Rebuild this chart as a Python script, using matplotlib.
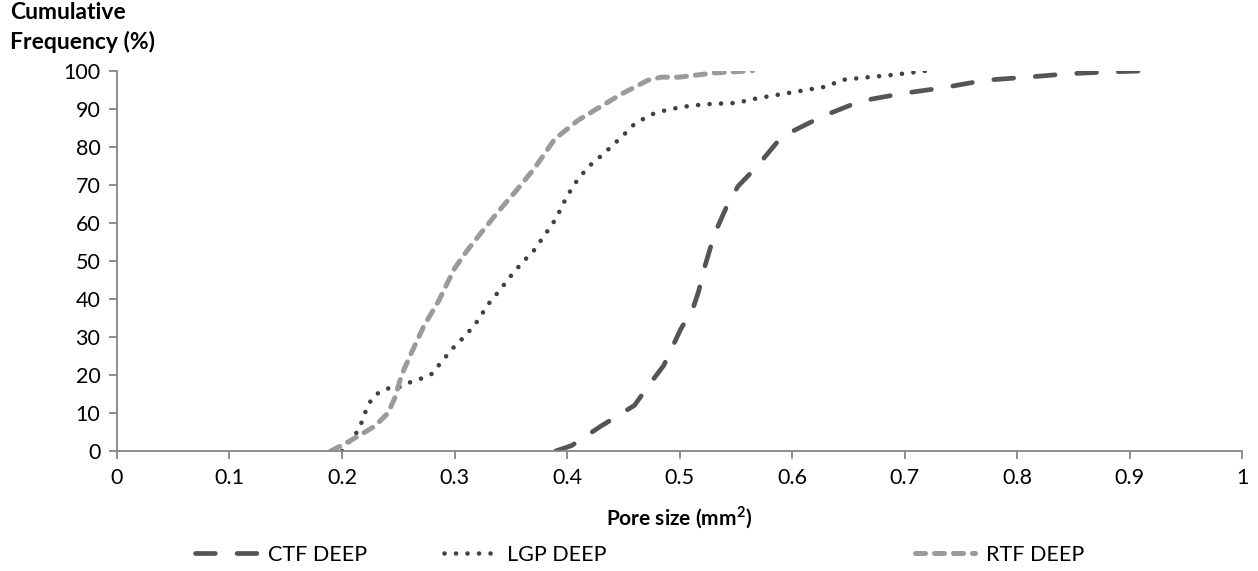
import matplotlib
matplotlib.use("Agg")
import matplotlib.pyplot as plt
from matplotlib.lines import Line2D

plt.rcParams["font.family"] = ["Lato", "DejaVu Sans"]

# data
ctf_x = [0.39, 0.404, 0.43, 0.46, 0.472, 0.486, 0.501, 0.512, 0.517, 0.522, 0.528, 0.534,
         0.543, 0.552, 0.563, 0.575, 0.589, 0.60, 0.627, 0.661, 0.698, 0.734, 0.772,
         0.809, 0.846, 0.883, 0.92]
ctf_y = [0, 1.4, 6.5, 12, 17, 22.5, 32, 37.5, 42, 48, 54, 59,
         65, 69.6, 73, 77, 82, 84, 88, 92, 94, 95.5, 97.5,
         98.3, 99.2, 99.7, 100]

lgp_x = [0.20, 0.215, 0.223, 0.229, 0.24, 0.25, 0.26, 0.27, 0.28, 0.29, 0.30, 0.31,
         0.32, 0.33, 0.34, 0.35, 0.36, 0.37, 0.38, 0.39, 0.40, 0.41, 0.42, 0.43,
         0.44, 0.45, 0.46, 0.475, 0.49, 0.51, 0.53, 0.55, 0.57, 0.59, 0.61, 0.63,
         0.645, 0.665, 0.69, 0.72]
lgp_y = [0, 5.6, 12, 14.7, 16.4, 16.7, 18, 19, 20.3, 24, 27.5, 30.4,
         34, 38.6, 42.2, 46, 49.5, 52.5, 56.7, 61, 67, 71.6, 75, 77.5,
         80.2, 83, 86, 88.5, 89.8, 90.8, 91.3, 91.5, 92.8, 93.8, 94.8, 95.8,
         97.6, 98.2, 98.9, 100]

rtf_x = [0.19, 0.20, 0.215, 0.229, 0.241, 0.247, 0.253, 0.262, 0.273, 0.286, 0.30,
         0.312, 0.324, 0.339, 0.353, 0.371, 0.389, 0.41, 0.424, 0.448, 0.472, 0.484,
         0.50, 0.53, 0.565]
rtf_y = [0, 1.5, 4, 6.5, 10, 14, 20, 26, 33, 39.5, 48,
         53, 57.5, 63, 67.8, 74.3, 82, 87, 89.5, 93.8, 97.5, 98.3,
         98.3, 99.4, 100]

x_ticks = [0, 0.1, 0.2, 0.3, 0.4, 0.5, 0.6, 0.7, 0.8, 0.9, 1]
x_tick_labels = ["0", "0.1", "0.2", "0.3", "0.4", "0.5", "0.6", "0.7", "0.8", "0.9", "1"]
y_ticks = list(range(0, 101, 10))

fig = plt.figure(figsize=(12.58, 5.71), dpi=100)
ax = fig.add_axes([0.093, 0.2102, 0.8943, 0.666])

ctf_style = dict(color="#555555", lw=3.4, dashes=(4.2, 4.6), dash_capstyle="round")
lgp_style = dict(color="#404040", lw=3.3, dashes=(0.01, 2.5), dash_capstyle="round")
rtf_style = dict(color="#9b9b9b", lw=3.6, dashes=(2.0, 1.8), dash_capstyle="round")

ax.plot(ctf_x, ctf_y, **ctf_style)
ax.plot(lgp_x, lgp_y, **lgp_style)
ax.plot(rtf_x, rtf_y, **rtf_style)

ax.set_xlim(0, 1)
ax.set_ylim(0, 100)
ax.set_xticks(x_ticks)
ax.set_xticklabels(x_tick_labels)
ax.set_yticks(y_ticks)

for s in ["top", "right"]:
    ax.spines[s].set_visible(False)
for s in ["left", "bottom"]:
    ax.spines[s].set_color("#868686")
    ax.spines[s].set_linewidth(1.3)
ax.tick_params(axis="both", direction="out", length=6, width=1.3, color="#868686",
               labelsize=15.5, labelcolor="black")
ax.tick_params(axis="x", pad=6)
ax.tick_params(axis="y", pad=6)

ax.set_xlabel("Pore size (mm$^{\\mathregular{2}}$)", fontsize=15, fontweight="bold", labelpad=12)
fig.text(0.008, 0.997, "Cumulative\nFrequency (%)", fontsize=16.5, fontweight="bold",
         ha="left", va="top", linespacing=1.45)

entries = [("CTF DEEP", ctf_style, 0.155, 2.9), ("LGP DEEP", lgp_style, 0.353, 2.4),
           ("RTF DEEP", rtf_style, 0.727, 2.8)]
for name, style, xpos, hl in entries:
    h = Line2D([], [], **style)
    fig.legend(handles=[h], labels=[name], loc="center left", bbox_to_anchor=(xpos, 0.028),
               frameon=False, fontsize=15.5, handlelength=hl, handletextpad=0.5,
               borderaxespad=0, borderpad=0)

fig.savefig("out.png", dpi=100)
